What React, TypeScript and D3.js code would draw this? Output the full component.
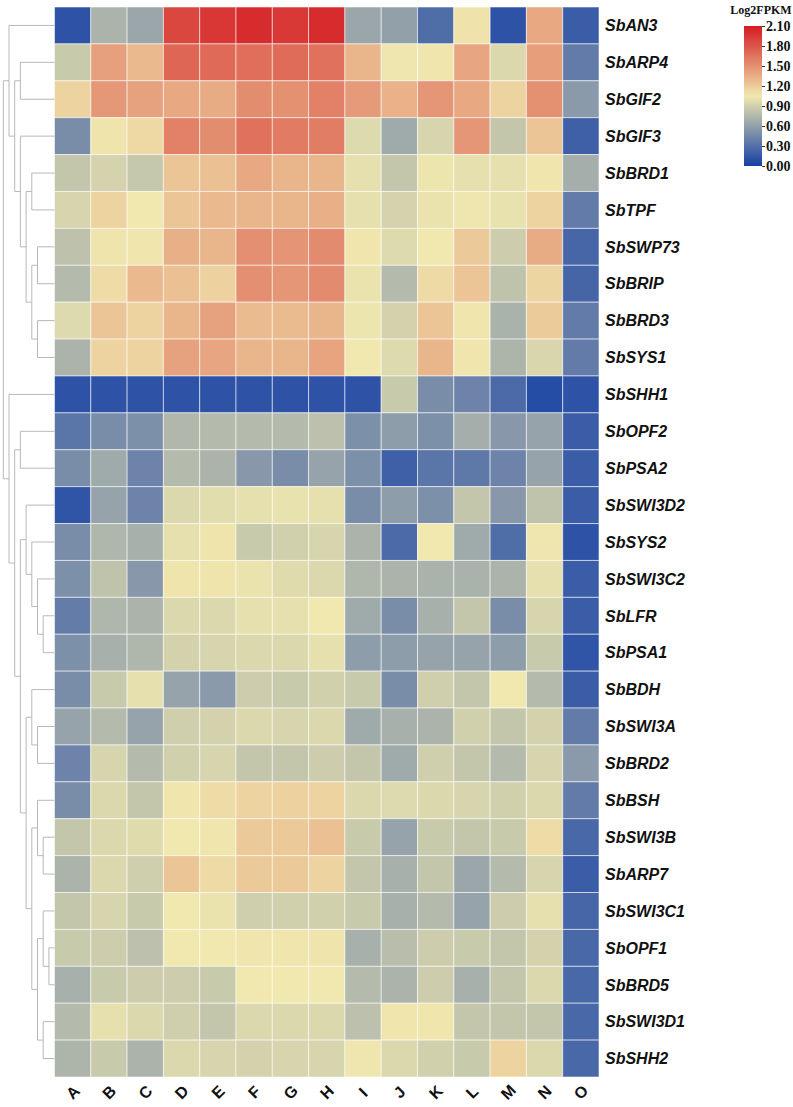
import React, { useEffect, useRef } from 'react';
import * as d3 from 'd3';

const samples = ['A', 'B', 'C', 'D', 'E', 'F', 'G', 'H', 'I', 'J', 'K', 'L', 'M', 'N', 'O'];

const genes = [
  'SbAN3', 'SbARP4', 'SbGIF2', 'SbGIF3', 'SbBRD1', 'SbTPF', 'SbSWP73', 'SbBRIP',
  'SbBRD3', 'SbSYS1', 'SbSHH1', 'SbOPF2', 'SbPSA2', 'SbSWI3D2', 'SbSYS2',
  'SbSWI3C2', 'SbLFR', 'SbPSA1', 'SbBDH', 'SbSWI3A', 'SbBRD2', 'SbBSH',
  'SbSWI3B', 'SbARP7', 'SbSWI3C1', 'SbOPF1', 'SbBRD5', 'SbSWI3D1', 'SbSHH2',
];

// log2 FPKM, one row per gene, columns A..O
const expr = [
  [0.12, 0.72, 0.64, 1.88, 1.96, 2.02, 1.95, 2.02, 0.64, 0.60, 0.28, 1.08, 0.12, 1.38, 0.18],
  [0.86, 1.42, 1.29, 1.72, 1.70, 1.68, 1.69, 1.66, 1.31, 1.04, 1.06, 1.39, 0.95, 1.43, 0.37],
  [1.16, 1.46, 1.41, 1.38, 1.36, 1.52, 1.50, 1.58, 1.45, 1.33, 1.47, 1.38, 1.16, 1.50, 0.56],
  [0.48, 1.07, 1.13, 1.58, 1.52, 1.66, 1.61, 1.60, 0.96, 0.66, 0.93, 1.47, 0.84, 1.23, 0.20],
  [0.84, 0.92, 0.85, 1.23, 1.25, 1.38, 1.31, 1.31, 1.00, 0.84, 1.03, 1.00, 1.00, 1.06, 0.69],
  [0.93, 1.16, 1.05, 1.23, 1.29, 1.31, 1.31, 1.34, 1.00, 0.92, 1.02, 1.04, 1.01, 1.16, 0.37],
  [0.81, 1.07, 1.06, 1.34, 1.31, 1.51, 1.48, 1.53, 1.06, 0.96, 1.05, 1.21, 0.88, 1.36, 0.24],
  [0.76, 1.11, 1.29, 1.25, 1.17, 1.51, 1.47, 1.53, 1.02, 0.76, 1.12, 1.23, 0.82, 1.15, 0.23],
  [0.96, 1.23, 1.16, 1.31, 1.41, 1.28, 1.28, 1.31, 1.03, 0.91, 1.23, 1.06, 0.71, 1.20, 0.37],
  [0.72, 1.16, 1.16, 1.41, 1.39, 1.31, 1.31, 1.40, 1.05, 0.96, 1.31, 1.06, 0.73, 0.94, 0.37],
  [0.12, 0.12, 0.12, 0.12, 0.12, 0.12, 0.12, 0.12, 0.12, 0.86, 0.48, 0.42, 0.26, 0.08, 0.12],
  [0.33, 0.48, 0.50, 0.75, 0.76, 0.76, 0.76, 0.80, 0.50, 0.58, 0.50, 0.69, 0.55, 0.62, 0.18],
  [0.48, 0.66, 0.42, 0.76, 0.72, 0.55, 0.48, 0.62, 0.50, 0.20, 0.33, 0.35, 0.42, 0.62, 0.18],
  [0.13, 0.62, 0.42, 0.95, 0.98, 1.00, 1.01, 1.00, 0.48, 0.58, 0.50, 0.84, 0.55, 0.82, 0.18],
  [0.48, 0.74, 0.70, 1.00, 1.07, 0.86, 0.90, 0.93, 0.72, 0.26, 1.05, 0.66, 0.28, 1.04, 0.12],
  [0.50, 0.82, 0.55, 1.07, 1.07, 1.02, 0.97, 0.95, 0.74, 0.72, 0.71, 0.71, 0.72, 1.00, 0.18],
  [0.38, 0.74, 0.72, 0.95, 0.95, 1.00, 1.00, 1.05, 0.66, 0.48, 0.70, 0.84, 0.48, 0.93, 0.18],
  [0.50, 0.70, 0.74, 0.91, 0.93, 0.95, 0.95, 1.00, 0.58, 0.58, 0.62, 0.62, 0.58, 0.86, 0.13],
  [0.48, 0.86, 1.00, 0.62, 0.56, 0.88, 0.86, 0.90, 0.86, 0.48, 0.89, 0.84, 1.05, 0.76, 0.18],
  [0.62, 0.76, 0.62, 0.89, 0.91, 0.95, 0.93, 0.95, 0.66, 0.70, 0.72, 0.90, 0.84, 0.91, 0.37],
  [0.42, 0.93, 0.76, 0.90, 0.93, 0.84, 0.84, 0.88, 0.84, 0.66, 0.89, 0.84, 0.76, 0.93, 0.56],
  [0.48, 0.95, 0.84, 1.06, 1.11, 1.16, 1.17, 1.16, 0.95, 0.96, 0.95, 0.93, 0.90, 0.95, 0.37],
  [0.84, 0.95, 0.97, 1.05, 1.06, 1.21, 1.21, 1.25, 0.86, 0.62, 0.86, 0.84, 0.86, 1.11, 0.25],
  [0.72, 0.95, 0.89, 1.23, 1.12, 1.21, 1.21, 1.16, 0.84, 0.70, 0.84, 0.64, 0.76, 0.93, 0.18],
  [0.84, 0.93, 0.86, 1.05, 1.02, 0.89, 0.90, 0.90, 0.86, 0.70, 0.76, 0.62, 0.88, 1.00, 0.24],
  [0.86, 0.88, 0.80, 1.05, 1.05, 1.06, 1.06, 1.07, 0.70, 0.78, 0.88, 0.86, 0.84, 0.91, 0.25],
  [0.70, 0.86, 0.88, 0.88, 0.86, 1.05, 1.05, 1.05, 0.76, 0.72, 0.88, 0.70, 0.84, 0.95, 0.25],
  [0.76, 1.00, 0.95, 0.89, 0.84, 0.95, 0.95, 0.95, 0.80, 1.06, 1.06, 0.84, 0.84, 0.84, 0.25],
  [0.73, 0.86, 0.72, 0.95, 0.93, 0.91, 0.93, 0.93, 1.04, 0.95, 0.90, 0.86, 1.16, 0.95, 0.25],
];

const legendTicks = [0, 0.3, 0.6, 0.9, 1.2, 1.5, 1.8, 2.1];

// row clustering, leaves are row indices
const tree = [
  [0, [[1, 2], [3, [[4, 5], [[6, 7], [8, 9]]]]]],
  [10, [[11, 12], [
    [13, [14, [15, [16, 17]]]],
    [[18, [19, 20]], [[21, [22, 23]], [[24, [25, 26]], [27, 28]]]],
  ]]],
];

export default function App() {
  const ref = useRef(null);

  useEffect(() => {
    const svg = d3.select(ref.current);
    svg.selectAll('*').remove();

    const left = 54.5, right = 599, top = 7, bottom = 1077;

    const x = d3.scaleBand().domain(samples).range([left, right]);
    const y = d3.scaleBand().domain(genes.map((_, i) => i)).range([top, bottom]);

    const color = d3.scaleLinear()
      .domain([0, 1.05, 2.1])
      .range(['#1540a5', '#f0e8ae', '#d41c22'])
      .clamp(true);

    // cells
    const cells = [];
    expr.forEach((row, i) => row.forEach((v, j) => cells.push({ i, j, v })));
    svg.append('g')
      .selectAll('rect')
      .data(cells)
      .join('rect')
      .attr('x', d => x(samples[d.j]))
      .attr('y', d => y(d.i))
      .attr('width', x.bandwidth())
      .attr('height', y.bandwidth())
      .attr('fill', d => color(d.v))
      .attr('stroke', 'rgba(255,255,255,0.55)')
      .attr('stroke-width', 1);

    // dendrogram, x by depth
    const root = d3.hierarchy(tree, d => (Array.isArray(d) ? d : null));
    const depthX = d3.scaleLinear().domain([0, 8]).range([3.3, 48.9]);
    root.eachAfter(n => {
      if (n.children) {
        n.py = d3.mean(n.children, c => c.py);
        n.px = depthX(n.depth);
      } else {
        n.py = y(n.data) + y.bandwidth() / 2;
        n.px = left;
      }
    });
    let dPath = '';
    root.each(n => {
      if (!n.children) return;
      const ys = n.children.map(c => c.py);
      dPath += `M${n.px},${d3.min(ys)}V${d3.max(ys)}`;
      n.children.forEach(c => { dPath += `M${n.px},${c.py}H${c.px}`; });
    });
    svg.append('path')
      .attr('d', dPath)
      .attr('fill', 'none')
      .attr('stroke', '#b8b8b8')
      .attr('stroke-width', 1);

    // gene labels
    svg.append('g')
      .selectAll('text')
      .data(genes)
      .join('text')
      .attr('x', right + 6)
      .attr('y', (_, i) => y(i) + y.bandwidth() / 2)
      .attr('dy', '0.36em')
      .attr('font-family', '"Liberation Sans", Arial, sans-serif')
      .attr('font-weight', 'bold')
      .attr('font-style', 'italic')
      .attr('font-size', 16)
      .attr('fill', '#111')
      .text(d => d);

    // sample labels
    svg.append('g')
      .selectAll('text')
      .data(samples)
      .join('text')
      .attr('transform', d => `translate(${x(d) + x.bandwidth() / 2},${bottom + 15}) rotate(-45)`)
      .attr('text-anchor', 'middle')
      .attr('dy', '0.36em')
      .attr('font-family', '"Liberation Sans", Arial, sans-serif')
      .attr('font-weight', 'bold')
      .attr('font-size', 16)
      .attr('fill', '#111')
      .text(d => d);

    // colour key
    const ly = d3.scaleLinear().domain([0, 2.1]).range([166, 26]);
    const grad = svg.append('defs').append('linearGradient')
      .attr('id', 'key')
      .attr('x1', 0).attr('y1', 1).attr('x2', 0).attr('y2', 0);
    d3.range(0, 2.101, 0.105).forEach(v => {
      grad.append('stop').attr('offset', v / 2.1).attr('stop-color', color(v));
    });
    svg.append('rect')
      .attr('x', 744)
      .attr('y', ly(2.1))
      .attr('width', 18)
      .attr('height', ly(0) - ly(2.1))
      .attr('fill', 'url(#key)');

    const axis = d3.axisRight(ly)
      .tickValues(legendTicks)
      .tickFormat(d3.format('.2f'))
      .tickSize(3)
      .tickPadding(1);
    const ax = svg.append('g')
      .attr('transform', 'translate(762,0)')
      .call(axis);
    ax.select('.domain').remove();
    ax.selectAll('line').attr('stroke', '#333');
    ax.selectAll('text')
      .attr('font-family', '"Liberation Serif", "Times New Roman", serif')
      .attr('font-weight', 'bold')
      .attr('font-size', 14)
      .attr('fill', '#111');

    svg.append('text')
      .attr('x', 761)
      .attr('y', 14)
      .attr('text-anchor', 'middle')
      .attr('font-family', '"Liberation Serif", "Times New Roman", serif')
      .attr('font-weight', 'bold')
      .attr('font-size', 12)
      .attr('fill', '#111')
      .text('Log2FPKM');
  }, []);

  return (
    <svg
      ref={ref}
      width={793}
      height={1107}
      style={{ position: 'absolute', left: 0, top: 0, background: '#fff' }}
    />
  );
}
